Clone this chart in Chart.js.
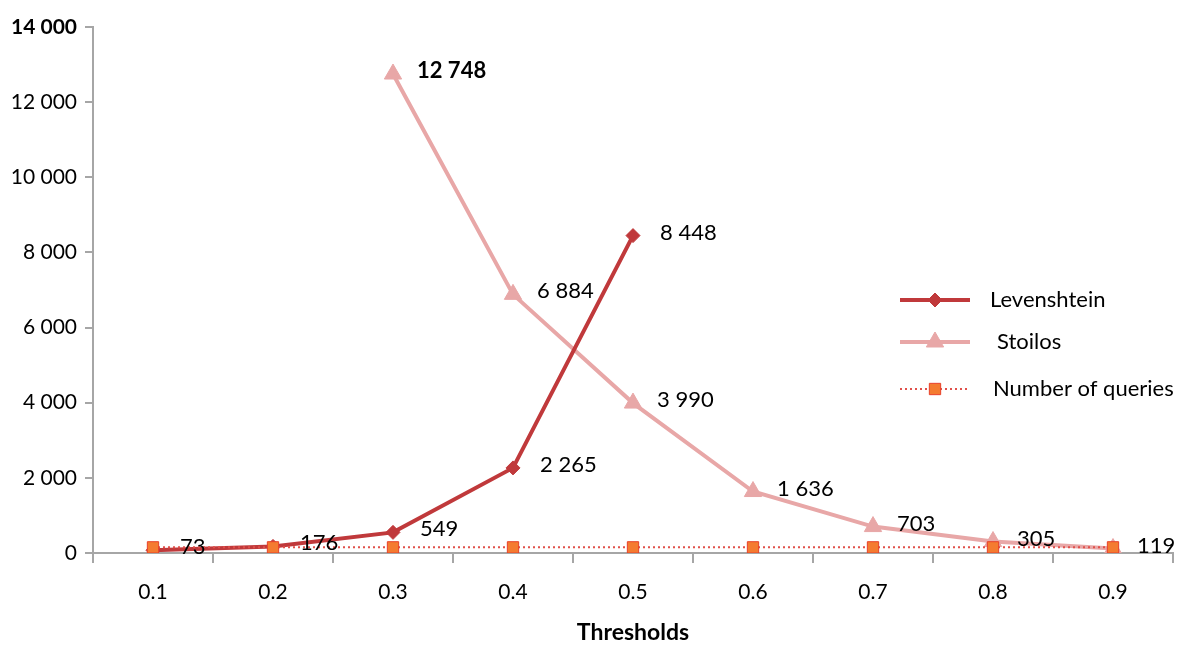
<!DOCTYPE html>
<html>
<head>
<meta charset="utf-8">
<script src="https://cdn.jsdelivr.net/npm/chart.js@4.4.1/dist/chart.umd.min.js"></script>
<style>
  html, body { margin: 0; padding: 0; background: #fff; }
  #wrap { width: 1200px; height: 654px; position: relative; }
</style>
</head>
<body>
<div id="wrap"><canvas id="chart"></canvas></div>
<script>
// Data
const thresholds = ['0.1', '0.2', '0.3', '0.4', '0.5', '0.6', '0.7', '0.8', '0.9'];
const levenshtein = [73, 176, 549, 2265, 8448, null, null, null, null];
const stoilos = [null, null, 12748, 6884, 3990, 1636, 703, 305, 119];
const queries = [150, 150, 150, 150, 150, 150, 150, 150, 150];
const yTicks = [0, 2000, 4000, 6000, 8000, 10000, 12000, 14000];

const FONT = 'Lato, "Open Sans", sans-serif';
const levColor = '#C0393B';
const stoColor = '#E8A7A7';
const qLine = '#E0504A';
const qFill = '#F47B30';

// Format numbers with space thousand separator
function fmt(v) {
    return String(v).replace(/\B(?=(\d{3})+(?!\d))/g, ' ');
}

// Value labels next to points
const valueLabels = {
    id: 'valueLabels',
    afterDatasetsDraw(chart) {
        const c = chart.ctx;
        const maxSto = Math.max(...stoilos.filter(v => v !== null));
        chart.data.datasets.forEach((ds, i) => {
            if (!ds.showValues) return;
            const meta = chart.getDatasetMeta(i);
            meta.data.forEach((pt, j) => {
                const v = ds.data[j];
                if (v === null || v === undefined) return;
                c.save();
                const bold = ds === chart.data.datasets[2] && v === maxSto;
                c.font = (bold ? 'bold ' : '') + '22px ' + FONT;
                c.fillStyle = '#000';
                c.textAlign = 'left';
                c.textBaseline = 'middle';
                c.fillText(fmt(v), pt.x + ds.labelDx, pt.y + ds.labelDy);
                c.restore();
            });
        });
    }
};

// Legend drawn inside the plot, on the right
const sideLegend = {
    id: 'sideLegend',
    afterDraw(chart) {
        const c = chart.ctx;
        const items = [
            { ds: 1, y: 300, textX: 990, text: 'Levenshtein' },
            { ds: 2, y: 342, textX: 997, text: 'Stoilos' },
            { ds: 0, y: 389, textX: 993, text: 'Number of queries' }
        ];
        items.forEach(it => {
            const ds = chart.data.datasets[it.ds];
            c.save();
            c.strokeStyle = ds.borderColor;
            c.lineWidth = ds.borderWidth;
            c.setLineDash(ds.borderDash || []);
            c.beginPath();
            c.moveTo(900, it.y);
            c.lineTo(970, it.y);
            c.stroke();
            c.setLineDash([]);
            c.fillStyle = ds.pointBackgroundColor;
            c.strokeStyle = ds.pointBorderColor;
            c.lineWidth = ds.pointBorderWidth;
            Chart.helpers.drawPoint(c, {
                pointStyle: ds.pointStyle,
                radius: ds.pointRadius,
                rotation: 0,
                borderWidth: ds.pointBorderWidth
            }, 935, it.y);
            c.font = '22px ' + FONT;
            c.fillStyle = '#000';
            c.textAlign = 'left';
            c.textBaseline = 'middle';
            c.fillText(it.text, it.textX, it.y);
            c.restore();
        });
    }
};

new Chart(document.getElementById('chart'), {
    type: 'line',
    data: {
        labels: thresholds,
        datasets: [
            {
                label: 'Number of queries',
                data: queries,
                order: 0,
                borderColor: qLine,
                borderWidth: 2,
                borderDash: [2, 3],
                pointStyle: 'rect',
                pointRadius: 8,
                pointBackgroundColor: qFill,
                pointBorderColor: '#E8402A',
                pointBorderWidth: 1,
                showValues: false
            },
            {
                label: 'Levenshtein',
                data: levenshtein,
                order: 1,
                borderColor: levColor,
                borderWidth: 4,
                pointStyle: 'rectRot',
                pointRadius: 7,
                pointBackgroundColor: levColor,
                pointBorderColor: levColor,
                pointBorderWidth: 1,
                showValues: true,
                labelDx: 27,
                labelDy: -3
            },
            {
                label: 'Stoilos',
                data: stoilos,
                order: 2,
                borderColor: stoColor,
                borderWidth: 4,
                pointStyle: 'triangle',
                pointRadius: 10,
                pointBackgroundColor: stoColor,
                pointBorderColor: stoColor,
                pointBorderWidth: 1,
                showValues: true,
                labelDx: 24,
                labelDy: -3
            }
        ]
    },
    options: {
        responsive: true,
        maintainAspectRatio: false,
        animation: false,
        layout: { padding: { top: 27, right: 27, left: 0, bottom: 0 } },
        plugins: {
            legend: { display: false },
            tooltip: { enabled: false }
        },
        scales: {
            x: {
                offset: true,
                afterFit: s => { s.height = 101; },
                grid: {
                    offset: true,
                    drawOnChartArea: false,
                    tickLength: 10,
                    color: '#A6A6A6',
                    lineWidth: 2
                },
                border: { color: '#A6A6A6', width: 2 },
                ticks: {
                    padding: 17,
                    color: '#000',
                    font: { family: FONT, size: 21 },
                    maxRotation: 0
                },
                title: {
                    display: true,
                    text: 'Thresholds',
                    color: '#000',
                    font: { family: FONT, size: 23, weight: 'bold' },
                    padding: { top: 0, bottom: 8 }
                }
            },
            y: {
                min: 0,
                max: 14000,
                afterFit: s => { s.width = 93; },
                afterBuildTicks: s => { s.ticks = yTicks.map(v => ({ value: v })); },
                grid: {
                    drawOnChartArea: false,
                    tickLength: 8,
                    color: '#A6A6A6',
                    lineWidth: 2
                },
                border: { color: '#A6A6A6', width: 2 },
                ticks: {
                    padding: 8,
                    color: '#000',
                    callback: v => fmt(v),
                    font: ctx => ({
                        family: FONT,
                        size: 21,
                        weight: ctx.tick && ctx.tick.value === 14000 ? 'bold' : 'normal'
                    })
                }
            }
        }
    },
    plugins: [valueLabels, sideLegend]
});
</script>
</body>
</html>
